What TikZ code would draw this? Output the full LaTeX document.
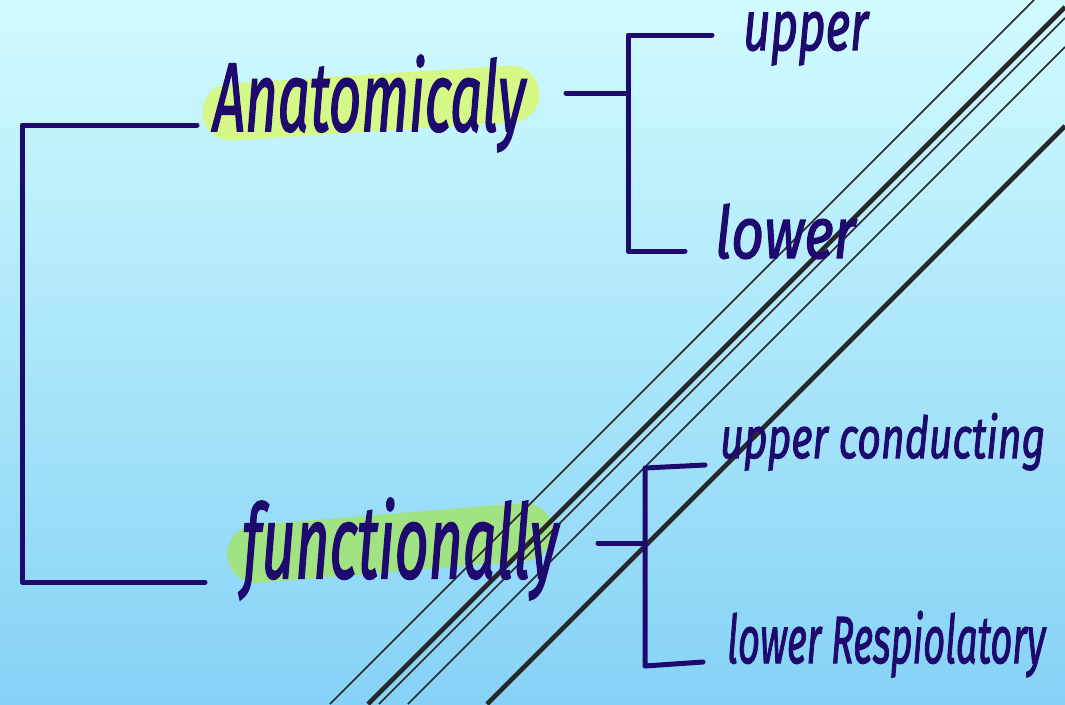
\documentclass[tikz,border=0pt]{standalone}
\usepackage{fontspec}
\setmainfont{Fira Sans}[ItalicFeatures={FakeBold=2}]
\usepackage{graphicx}

\definecolor{ink}{RGB}{30,9,110}
\definecolor{skytop}{RGB}{209,251,255}
\definecolor{skymid}{RGB}{180,236,251}
\definecolor{skybot}{RGB}{134,210,246}
\definecolor{hlyellow}{RGB}{213,248,135}
\definecolor{hlgreen}{RGB}{161,226,130}
\definecolor{pencil}{RGB}{40,40,40}

% handwritten label squeezed into a given width and height above the baseline
\newcommand{\hw}[3]{\resizebox{#1pt}{#2pt}{\itshape #3}}

\tikzset{
  txt/.style={anchor=base west, inner sep=0pt, text=ink},
  bracket/.style={draw=ink, line width=5pt, line cap=round, line join=round},
  marker/.style={line cap=round, line width=#1},
  thinrule/.style={draw=pencil, line width=1.7pt},
  thickrule/.style={draw=pencil, line width=4.6pt},
}

\begin{document}
\begin{tikzpicture}[x=1pt,y=-1pt]
  \useasboundingbox (0,0) rectangle (1065,704);
  \shade[top color=skytop, middle color=skymid, bottom color=skybot]
    (0,0) rectangle (1065,704);

  % highlighter strokes
  \draw[marker=57pt, hlyellow] (231,112) -- (511,94);
  \draw[marker=58pt, hlgreen] (256,554) -- (524,532);

  % diagonal rules
  \coordinate (ra1) at (330,704);  \coordinate (ra2) at (1034,0);
  \coordinate (rb1) at (368,704);  \coordinate (rb2) at (1065,7);
  \coordinate (rc1) at (379,704);  \coordinate (rc2) at (1065,18);
  \coordinate (rd1) at (408,704);  \coordinate (rd2) at (1065,47);
  \coordinate (re1) at (487,704);  \coordinate (re2) at (1065,126);
  \draw[thinrule] (ra1) -- (ra2);
  \draw[thickrule] (rb1) -- (rb2);
  \draw[thinrule] (rc1) -- (rc2);
  \draw[thinrule] (rd1) -- (rd2);
  \draw[thickrule] (re1) -- (re2);

  % labels
  \node[txt] (anat) at (213,131) {\hw{312}{76}{Anatomicaly}};
  \node[txt] (aup) at (743,50) {\hw{125}{38}{upper}};
  \node[txt] (alow) at (715,258) {\hw{140}{54}{lower}};
  \node[txt] (func) at (242,578) {\hw{316}{80}{functionally}};
  \node[txt] (fup) at (720,458) {\hw{325}{45}{upper conducting}};
  \node[txt] (flow) at (727,663) {\hw{318}{52}{lower Respiolatory}};

  % main bracket
  \coordinate (m1) at (197,125);
  \coordinate (m2) at (22,125);
  \coordinate (m3) at (22,582);
  \coordinate (m4) at (205,582);
  \draw[bracket] (m1) -- (m2) -- (m3) -- (m4);

  % anatomical bracket
  \coordinate (a0) at (566,93);
  \coordinate (a1) at (626,93);
  \coordinate (a2) at (712,35);
  \coordinate (a3) at (628,35);
  \coordinate (a4) at (628,251);
  \coordinate (a5) at (685,251);
  \draw[bracket] (a0) -- (a1);
  \draw[bracket] (a2) -- (a3) -- (a4) -- (a5);

  % functional bracket
  \coordinate (f0) at (598,543);
  \coordinate (f1) at (643,543);
  \coordinate (f2) at (705,465);
  \coordinate (f3) at (645,468);
  \coordinate (f4) at (645,666);
  \coordinate (f5) at (703,662);
  \draw[bracket] (f0) -- (f1);
  \draw[bracket] (f2) -- (f3) -- (f4) -- (f5);
\end{tikzpicture}
\end{document}
